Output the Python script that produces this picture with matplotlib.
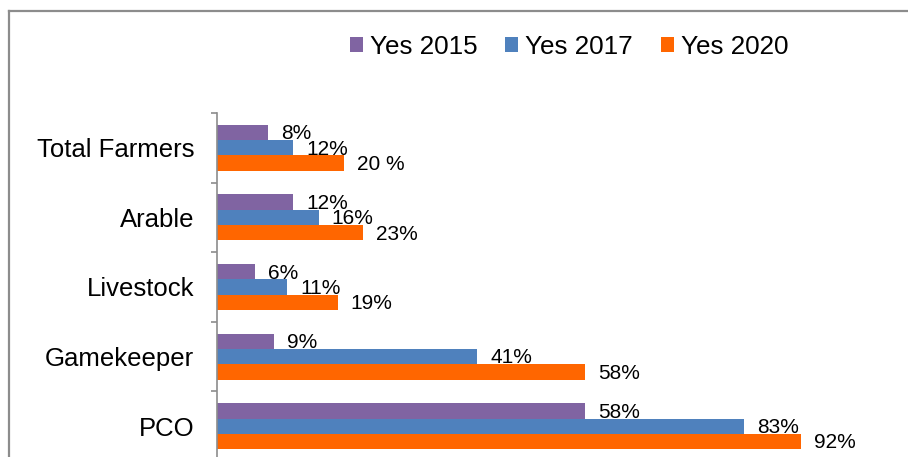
import numpy as np
import matplotlib.pyplot as plt
from matplotlib.lines import Line2D

plt.rcParams['font.family'] = ['Liberation Sans', 'DejaVu Sans']

categories = ['Total Farmers', 'Arable', 'Livestock', 'Gamekeeper', 'PCO']
series = ['Yes 2015', 'Yes 2017', 'Yes 2020']
yes_2015 = [8, 12, 6, 9, 58]
yes_2017 = [12, 16, 11, 41, 83]
yes_2020 = [20, 23, 19, 58, 92]
labels_2015 = ['8%', '12%', '6%', '9%', '58%']
labels_2017 = ['12%', '16%', '11%', '41%', '83%']
labels_2020 = ['20 %', '23%', '19%', '58%', '92%']
colors = ['#8064A2', '#4F81BD', '#FF6600']

W, H = 908, 457
fig = plt.figure(figsize=(W / 100, H / 100), dpi=100)

# frame around the chart area (left and top edges visible)
grey = '#8c8c8c'
fig.add_artist(Line2D([8.5 / W, 8.5 / W], [0, 1 - 10.5 / H], color=grey, lw=1.6))
fig.add_artist(Line2D([8.5 / W, 1], [1 - 10.5 / H, 1 - 10.5 / H], color=grey, lw=1.6))

left, top = 217, 113
band = 69.6
ax = fig.add_axes([left / W, (H - top - band * 5) / H, 635 / W, band * 5 / H])

y = np.arange(len(categories))
h = 0.22
data = [yes_2015, yes_2017, yes_2020]
texts = [labels_2015, labels_2017, labels_2020]
for i, (vals, labs) in enumerate(zip(data, texts)):
    pos = y + (i - 1) * h
    ax.barh(pos, vals, height=h, color=colors[i], label=series[i])
    for p, v, t in zip(pos, vals, labs):
        ax.annotate(t, xy=(v, p), xytext=(9.5, -1), textcoords='offset points',
                    va='center', ha='left', fontsize=15)

ax.set_xlim(0, 100)
ax.set_ylim(len(categories) - 0.5, -0.5)
ax.set_yticks(y)
ax.set_yticklabels(categories, fontsize=18.5)
ax.set_yticks(np.arange(-0.5, len(categories) + 0.5, 1), minor=True)
ax.tick_params(axis='y', which='major', length=0, pad=16.5)
ax.tick_params(axis='y', which='minor', length=4.3, width=1.2, color=grey)
ax.set_xticks([])
for s in ['top', 'right', 'bottom']:
    ax.spines[s].set_visible(False)
ax.spines['left'].set_color(grey)
ax.spines['left'].set_linewidth(1.2)

fig.legend(loc='center', bbox_to_anchor=(569 / W, 1 - 47 / H), ncol=3,
           frameon=False, fontsize=18.7, handlelength=0.5, handleheight=0.5,
           handletextpad=0.27, columnspacing=1.08, borderpad=0)

fig.savefig('out.png', dpi=100)
